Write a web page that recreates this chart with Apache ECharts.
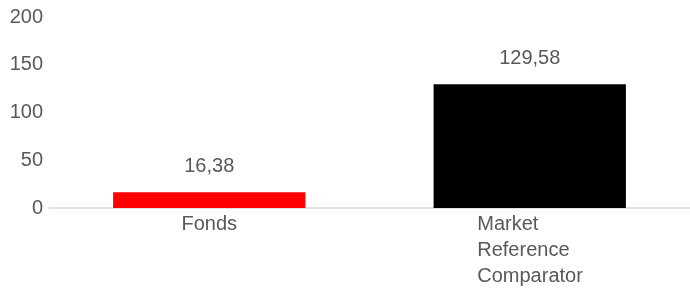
<!DOCTYPE html>
<html>
<head>
<meta charset="utf-8">
<script src="https://cdn.jsdelivr.net/npm/echarts@6/dist/echarts.min.js"></script>
<style>html,body{margin:0;padding:0;background:#fff;}#c{width:690px;height:293px;}</style>
</head>
<body>
<div id="c"></div>
<script>
const categories = ['Fonds', 'Market\nReference\nComparator'];
const values = [16.38, 129.58];
const barColors = ['#ff0000', '#000000'];
const yTicks = { min: 0, max: 200, interval: 50 };

const chart = echarts.init(document.getElementById('c'), null, { renderer: 'canvas' });
const font = 'Liberation Sans, Arial, sans-serif';
chart.setOption({
  animation: false,
  grid: { left: 49, right: 0, top: 17, bottom: 85 },
  xAxis: {
    type: 'category',
    data: categories,
    axisLine: { lineStyle: { color: '#d9d9d9', width: 1.5 } },
    axisTick: { show: false },
    axisLabel: {
      color: '#595959', fontSize: 20, fontFamily: font, margin: 3, lineHeight: 26,
      formatter: function (v) {
        if (v.indexOf('\n') < 0) return v;
        return v.split('\n').map(s => '{a|' + s + '}').join('\n');
      },
      rich: { a: { width: 105, align: 'left', color: '#595959', fontSize: 20, fontFamily: font, lineHeight: 26 } }
    }
  },
  yAxis: {
    type: 'value',
    min: yTicks.min, max: yTicks.max, interval: yTicks.interval,
    axisLine: { show: false },
    axisTick: { show: false },
    splitLine: { show: false },
    axisLabel: { color: '#595959', fontSize: 20, fontFamily: font, margin: 6 }
  },
  series: [{
    type: 'bar',
    barWidth: '60%',
    data: values.map((v, i) => ({ value: v, itemStyle: { color: barColors[i] } })),
    label: {
      show: true, position: 'top', distance: 16,
      color: '#595959', fontSize: 20, fontFamily: font,
      formatter: p => p.value.toFixed(2).replace('.', ',')
    }
  }]
});
</script>
</body>
</html>
